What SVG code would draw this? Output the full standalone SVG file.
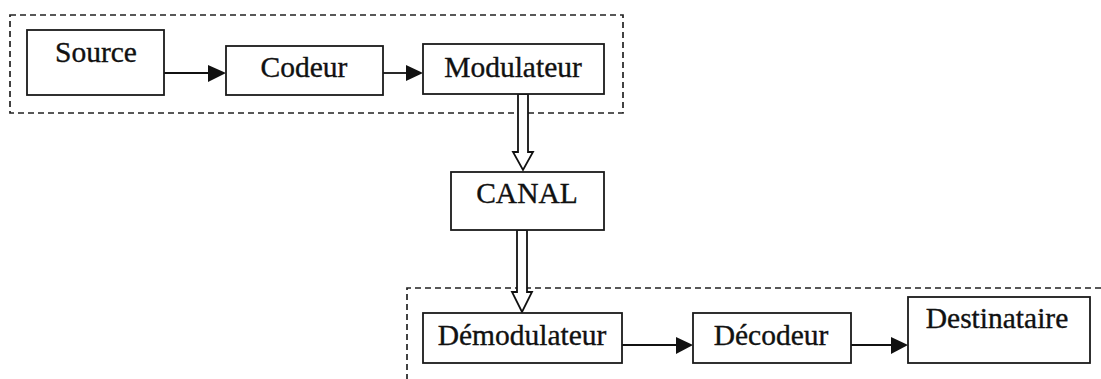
<svg xmlns="http://www.w3.org/2000/svg" width="1101" height="379" viewBox="0 0 1101 379">
<style>
.box{fill:#fff;stroke:#1a1a1a;stroke-width:1.8}
.dash{fill:none;stroke:#222;stroke-width:1.7;stroke-dasharray:6,4}
.lbl{font-family:"Liberation Serif","Times New Roman",serif;font-size:29.5px;fill:#111;stroke:#111;stroke-width:0.35;text-anchor:middle}
.ln{stroke:#111;stroke-width:1.8;fill:none}
.hd{fill:#111;stroke:none}
.hol{fill:#fff;stroke:#111;stroke-width:1.8;stroke-linejoin:miter}
</style>
<rect width="1101" height="379" fill="#fff"/>
<g id="groups">
<rect class="dash" x="10" y="15" width="613" height="98"/>
<path class="dash" d="M1101,288 H407 V379"/>
</g>
<g id="connectors">
<line class="ln" x1="164" y1="73" x2="208" y2="73"/>
<polygon class="hd" points="208,65 226,73 208,82"/>
<line class="ln" x1="383" y1="73" x2="406" y2="73"/>
<polygon class="hd" points="406,65 423,73 406,81"/>
<line class="ln" x1="622" y1="345" x2="676" y2="345"/>
<polygon class="hd" points="676,337 693,345 676,354"/>
<line class="ln" x1="851" y1="345" x2="891" y2="345"/>
<polygon class="hd" points="891,337 908,345 891,354"/>
<polygon class="hol" points="518,94 528,94 528,152 533,152 523,170 513,152 518,152"/>
<polygon class="hol" points="517,230 527,230 527,292 532,292 522,312 512,292 517,292"/>
</g>
<g id="source">
<rect class="box" x="27" y="30" width="137" height="65"/>
<text class="lbl" x="96" y="62">Source</text>
</g>
<g id="codeur">
<rect class="box" x="226" y="46" width="157" height="49"/>
<text class="lbl" x="304" y="77">Codeur</text>
</g>
<g id="modulateur">
<rect class="box" x="423" y="44" width="181" height="50"/>
<text class="lbl" x="513" y="77">Modulateur</text>
</g>
<g id="canal">
<rect class="box" x="451" y="172" width="153" height="58"/>
<text class="lbl" x="527" y="203">CANAL</text>
</g>
<g id="demodulateur">
<rect class="box" x="423" y="313" width="199" height="50"/>
<text class="lbl" x="522" y="345">Démodulateur</text>
</g>
<g id="decodeur">
<rect class="box" x="693" y="313" width="158" height="50"/>
<text class="lbl" x="771" y="345">Décodeur</text>
</g>
<g id="destinataire">
<rect class="box" x="908" y="297" width="182" height="66"/>
<text class="lbl" x="997" y="328">Destinataire</text>
</g>
</svg>
